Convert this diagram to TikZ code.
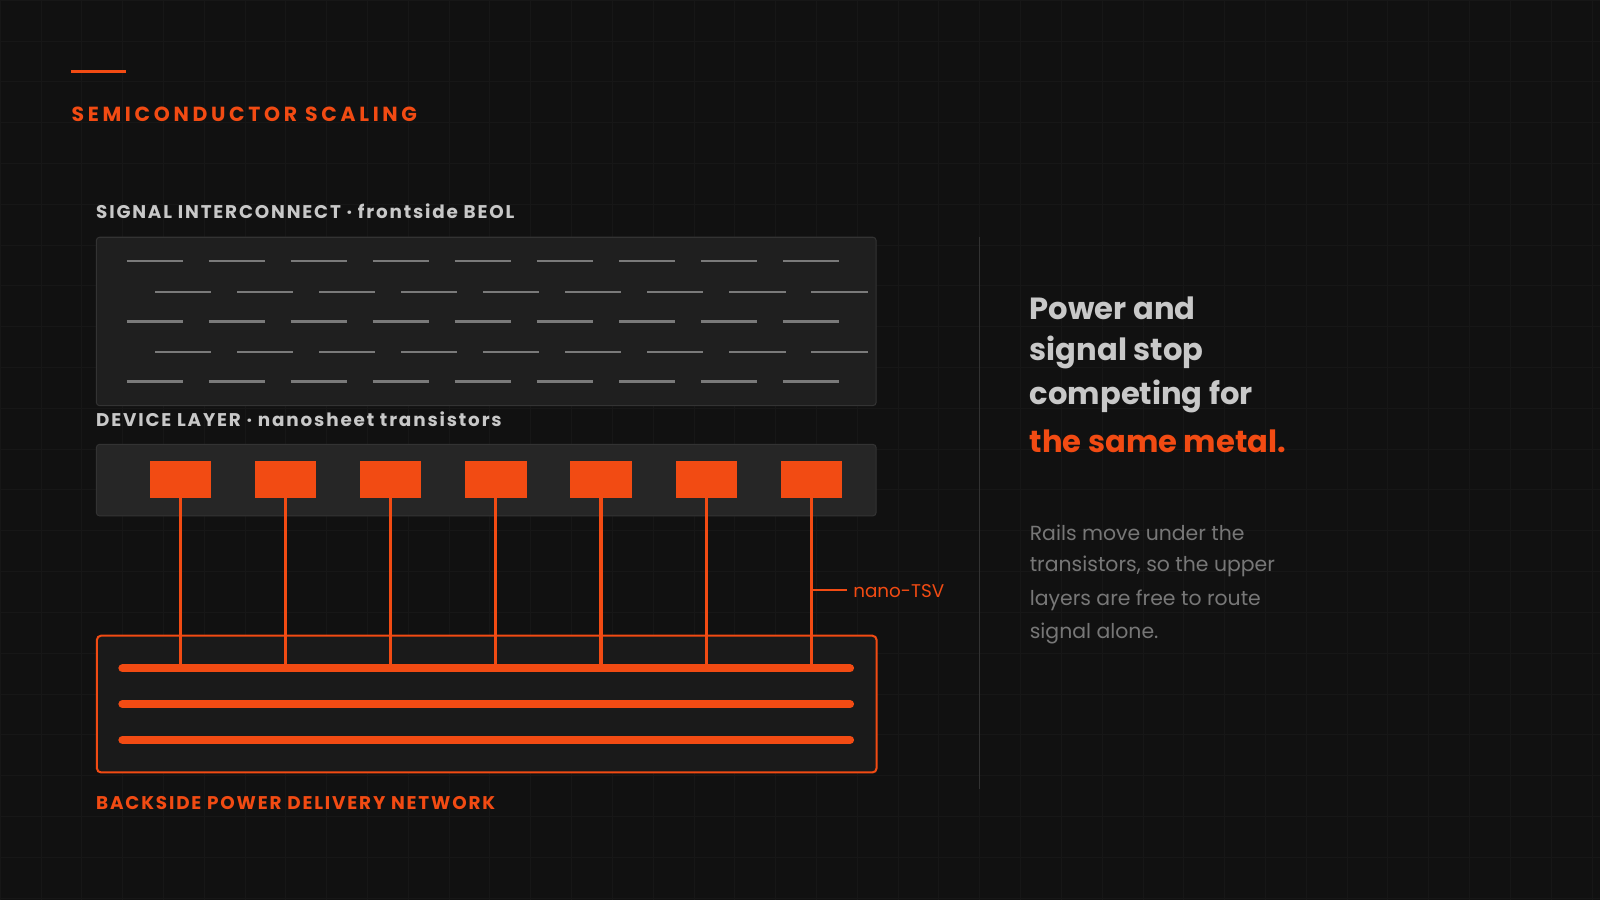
\documentclass[tikz,border=0pt]{standalone}
\usepackage{fontspec}
\setmainfont{Poppins}
\newfontfamily\spaced[LetterSpace=18]{Poppins}
\newfontfamily\spacedb[LetterSpace=10]{Poppins}
\definecolor{bg}{HTML}{111111}
\definecolor{gridc}{HTML}{171717}
\definecolor{org}{HTML}{F24B13}
\definecolor{lbl}{HTML}{C8C8C8}
\definecolor{dash}{HTML}{7A7A7A}
\definecolor{para}{HTML}{777777}
\definecolor{boxa}{HTML}{1F1F1F}
\definecolor{boxb}{HTML}{262626}
\definecolor{boxc}{HTML}{1A1A1A}
\definecolor{edge}{HTML}{333333}
\tikzset{
  lab/.style={anchor=west,inner sep=0pt,text=lbl,font=\spacedb\fontsize{18}{20}\selectfont\bfseries},
  olab/.style={lab,text=org},
  dsh/.style={draw=dash,line width=2.5pt},
  tr/.style={fill=org,draw=none,minimum width=60pt,minimum height=36pt,inner sep=0pt},
  tsv/.style={draw=org,line width=3pt},
  rail/.style={draw=org,line width=8pt,line cap=round},
  head/.style={anchor=west,inner sep=0pt,font=\fontsize{30}{33}\selectfont\bfseries,text=lbl},
  par/.style={anchor=west,inner sep=0pt,font=\fontsize{20}{22}\selectfont,text=para}
}
\begin{document}
\begin{tikzpicture}[x=1pt,y=-1pt]
\useasboundingbox (0,0) rectangle (1568,882);
\fill[bg] (0,0) rectangle (1568,882);
\foreach \i in {0,40,...,1560} \draw[gridc,line width=0.6pt] (\i,0)--(\i,882);
\foreach \i in {0,40,...,880} \draw[gridc,line width=0.6pt] (0,\i)--(1568,\i);
\draw[org,line width=3pt] (70,70)--(123,70);
\node[anchor=west,inner sep=0pt,text=org,font=\spaced\fontsize{20}{22}\selectfont\bfseries] (title) at (70,112) {SEMICONDUCTOR SCALING};
\node[lab] (l1) at (94,207) {SIGNAL INTERCONNECT · frontside BEOL};
\node[draw=edge,fill=boxa,rounded corners=3pt,minimum width=764pt,minimum height=165pt,anchor=north west,line width=1pt] (beol) at (94,232) {};
\foreach \r/\s in {256/124,286/152,315/124,345/152,374/124}
  \foreach \k in {0,...,8} \draw[dsh] (\s+\k*80.4,\r)--(\s+\k*80.4+55,\r);
\node[lab] (l2) at (94,411) {DEVICE LAYER · nanosheet transistors};
\node[draw=edge,fill=boxb,rounded corners=3pt,minimum width=764pt,minimum height=70pt,anchor=north west,line width=1pt] (dev) at (94,435) {};
\node[draw=org,fill=boxc,rounded corners=4pt,line width=2pt,minimum width=764pt,minimum height=134pt,anchor=north west] (bspdn) at (94,622) {};
\foreach \n/\x in {1/177,2/280,3/383,4/486,5/589,6/692,7/795}{
  \coordinate (b\n) at (\x,655);
  \draw[tsv] (\x,488)--(b\n);
  \node[tr] (t\n) at (\x,470) {};
}
\draw[rail] (120,655)--(833,655);
\draw[rail] (120,690)--(833,690);
\draw[rail] (120,725)--(833,725);
\coordinate (tsvp) at (795,578);
\coordinate (tsve) at (830,578);
\node[anchor=west,inner sep=0pt,text=org,font=\fontsize{18}{20}\selectfont] (tsvl) at (836,579) {nano-TSV};
\draw[org,line width=1.5pt] (tsvp)--(tsve);
\node[olab] (l3) at (94,787) {BACKSIDE POWER DELIVERY NETWORK};
\draw[edge,line width=1.5pt] (960,232)--(960,773);
\node[head] (h1) at (1009,302) {Power and};
\node[head] (h2) at (1009,345) {signal stop};
\node[head] (h3) at (1009,389) {competing for};
\node[head,text=org] (h4) at (1009,432) {the same metal.};
\node[par] (p1) at (1009,522) {Rails move under the};
\node[par] (p2) at (1009,555) {transistors, so the upper};
\node[par] (p3) at (1009,588) {layers are free to route};
\node[par] (p4) at (1009,621) {signal alone.};
\end{tikzpicture}
\end{document}
